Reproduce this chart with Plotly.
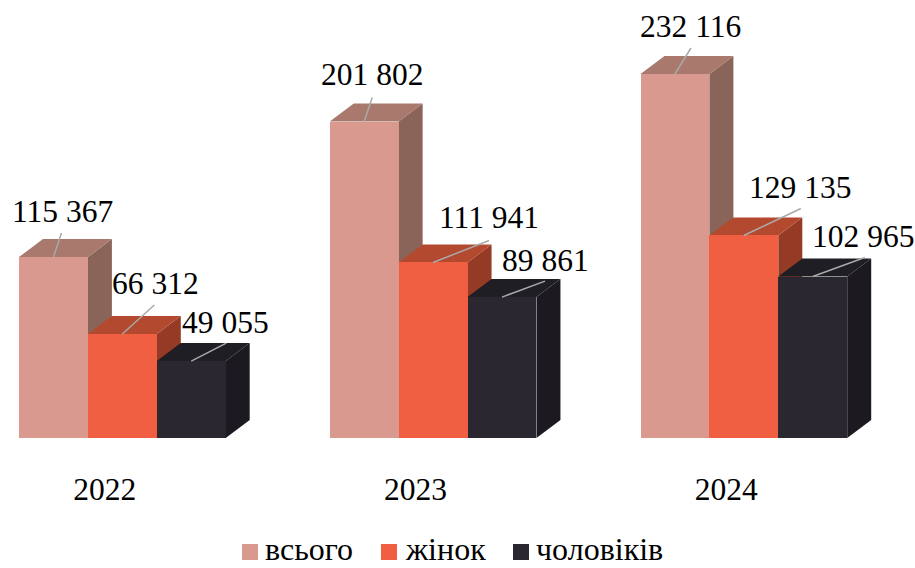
import plotly.graph_objects as go

years = ["2022", "2023", "2024"]
total = [115367, 201802, 232116]
women = [66312, 111941, 129135]
men = [49055, 89861, 102965]
series_names = ["всього", "жінок", "чоловіків"]

FRONT = ["#D9998E", "#F15F43", "#2A2730"]
TOP = ["#A8796C", "#B34A30", "#201E25"]
SIDE = ["#8A6459", "#943A25", "#1C1A20"]
LEADER = "#A9A9A9"
FONT = "Liberation Serif"

W, H = 915, 568
BASE_PX = 438
PX_PER_UNIT = 364 / 232116
PITCH_PX = 310.75
FIRST_LEFT_PX = 19
BAR_PX = 68.9
DEPTH_X_PX, DEPTH_Y_PX = 24, 18

# one category step = 1 on x; the axis spans the whole figure width
x_range = [-(FIRST_LEFT_PX) / PITCH_PX, (W - FIRST_LEFT_PX) / PITCH_PX]
y_range = [0, BASE_PX / PX_PER_UNIT]
bw = BAR_PX / PITCH_PX
dx = DEPTH_X_PX / PITCH_PX
dy = DEPTH_Y_PX / PX_PER_UNIT

fmt = lambda v: f"{v:,}".replace(",", " ")

# label offsets in px from bar-top centre: leader end and text centre
leader_end = [[(8, -24), (8, -24), (16, -26)],
              [(32, -29), (56, -22), (57, -27)],
              [(35, -18), (43, -16), (52, -19)]]
text_at = [[(9, -46), (8, -47), (16, -48)],
           [(33, -51), (56, -45), (56, -48)],
           [(34, -39), (43, -37), (50, -40)]]

# hand-placed legend, px from the page's left edge / top
legend_swatch_px = [242, 381, 513]
legend_text_px = [265, 405, 536]
LEGEND_SWATCH_TOP, LEGEND_SWATCH_BOTTOM = 544, 560
LEGEND_TEXT_MID = 549

fig = go.Figure()
annotations = []
shapes = []
all_values = [total, women, men]
for s, values in enumerate(all_values):
    z = 2 * s
    side_x, side_y, top_x, top_y = [], [], [], []
    left = [c + s * bw for c in range(len(values))]
    for l, v in zip(left, values):
        r = l + bw
        side_x += [r, r + dx, r + dx, r, r, None]
        side_y += [0, dy, v + dy, v, 0, None]
        top_x += [l, l + dx, r + dx, r, l, None]
        top_y += [v, v + dy, v + dy, v, v, None]
    for xs, ys, col in ((side_x, side_y, SIDE[s]), (top_x, top_y, TOP[s])):
        fig.add_trace(go.Scatter(x=xs, y=ys, mode="lines", fill="toself", fillcolor=col,
                                 line=dict(width=0, color=col), hoverinfo="skip",
                                 showlegend=False, zorder=z))
    fig.add_trace(go.Bar(x=list(range(len(values))), y=values, width=bw, offset=s * bw,
                         marker=dict(color=FRONT[s], line=dict(width=0)),
                         name=series_names[s], showlegend=False, zorder=z + 1))
    # leader lines
    lx, ly = [], []
    for c, (l, v) in enumerate(zip(left, values)):
        cx = l + bw / 2
        ex, ey = leader_end[s][c]
        lx += [cx, cx + ex / PITCH_PX, None]
        ly += [v, v - ey / PX_PER_UNIT, None]
        tx, ty = text_at[s][c]
        annotations.append(dict(x=cx, y=v, xref="x", yref="y", text=fmt(v), showarrow=False,
                                xshift=tx, yshift=-ty, xanchor="center", yanchor="middle",
                                font=dict(family=FONT, size=31.5, color="#000000")))
    fig.add_trace(go.Scatter(x=lx, y=ly, mode="lines", line=dict(color=LEADER, width=1.5),
                             hoverinfo="skip", showlegend=False, zorder=10))
    # legend entry
    to_y = lambda px: (BASE_PX - px) / BASE_PX
    shapes.append(dict(type="rect", xref="paper", yref="paper",
                       x0=legend_swatch_px[s] / W, x1=(legend_swatch_px[s] + 16) / W,
                       y0=to_y(LEGEND_SWATCH_BOTTOM), y1=to_y(LEGEND_SWATCH_TOP),
                       fillcolor=FRONT[s], line=dict(width=0)))
    annotations.append(dict(x=legend_text_px[s] / W, y=to_y(LEGEND_TEXT_MID), xref="paper", yref="paper",
                            text=series_names[s], showarrow=False, xanchor="left", yanchor="middle",
                            borderpad=0, borderwidth=0,
                            font=dict(family=FONT, size=32, color="#000000")))

tick_vals = [c + 1.5 * bw - 17.5 / PITCH_PX for c in range(len(years))]
fig.update_layout(
    width=W, height=H, margin=dict(l=0, r=0, t=0, b=H - BASE_PX),
    paper_bgcolor="white", plot_bgcolor="white",
    bargap=0, barmode="overlay", showlegend=False,
    xaxis=dict(range=x_range, tickmode="array", tickvals=tick_vals, ticktext=years,
               showgrid=False, zeroline=False, showline=False, ticks="",
               ticklabelstandoff=29, tickfont=dict(family=FONT, size=31.5, color="#000000")),
    yaxis=dict(range=y_range, visible=False, showgrid=False, zeroline=False),
    annotations=annotations, shapes=shapes,
)
fig.write_html("out.html", config={"displayModeBar": False},
               post_script="document.body.style.margin='0';")
